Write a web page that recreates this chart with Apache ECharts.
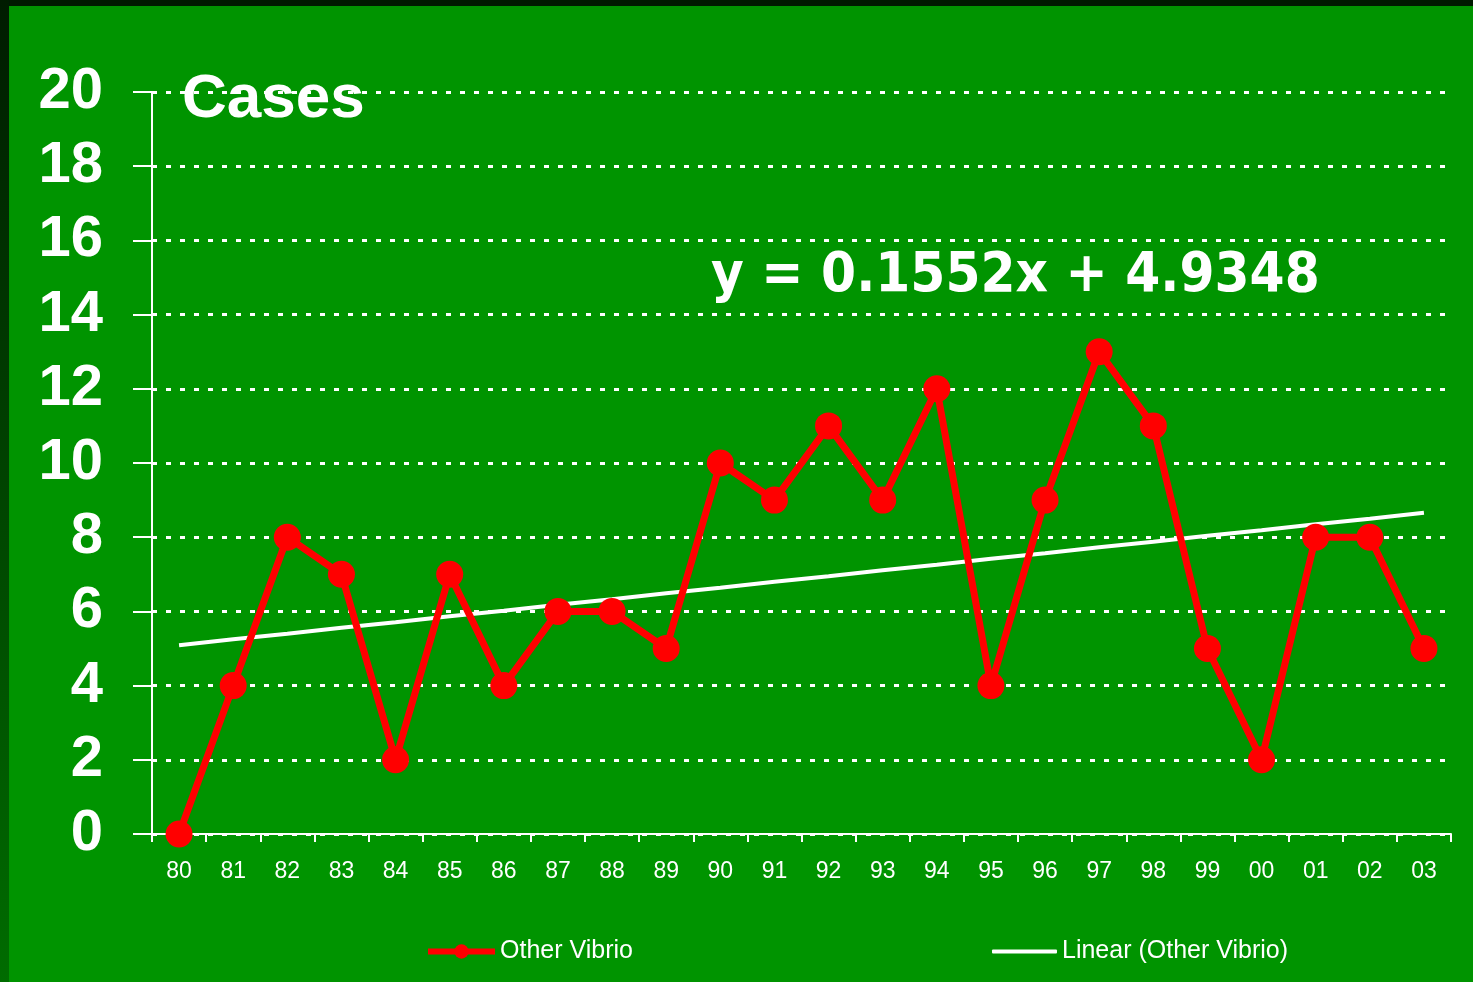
<!DOCTYPE html>
<html>
<head>
<meta charset="utf-8">
<script src="https://cdn.jsdelivr.net/npm/echarts@6/dist/echarts.min.js"></script>
<style>
html,body{margin:0;padding:0;background:#009400;}
#chart{width:1473px;height:982px;}
</style>
</head>
<body>
<div id="chart"></div>
<script>
// ---- data ----
var years = ['80','81','82','83','84','85','86','87','88','89','90','91','92','93','94','95','96','97','98','99','00','01','02','03'];
var otherVibrio = [0,4,8,7,2,7,4,6,6,5,10,9,11,9,12,4,9,13,11,5,2,8,8,5];
// linear trend values read per year (y = 0.1552x + 4.9348)
var linearTrend = [5.09,5.25,5.40,5.56,5.71,5.87,6.02,6.18,6.33,6.49,6.64,6.80,6.95,7.11,7.26,7.42,7.57,7.73,7.88,8.04,8.19,8.35,8.50,8.66];
var titleText = 'Cases';
var equationText = 'y = 0.1552x + 4.9348';
var seriesNames = ['Other Vibrio', 'Linear (Other Vibrio)'];

var chart = echarts.init(document.getElementById('chart'), null, {renderer: 'canvas'});
var option = {
  backgroundColor: '#009400',
  animation: false,
  grid: {left: 152, right: 22, top: 92, bottom: 148, containLabel: false},
  graphic: [
    {type: 'rect', left: 0, top: 0, shape: {width: 1473, height: 6}, style: {fill: '#001a00'}, z: 100},
    {type: 'rect', left: 0, top: 0, shape: {width: 9, height: 982},
     style: {fill: new echarts.graphic.LinearGradient(0, 0, 0, 1, [{offset: 0, color: '#001c00'}, {offset: 1, color: '#006c00'}])}, z: 100},
    {type: 'text', x: 182, y: 100, z: 50,
     style: {text: titleText, fill: '#ffffff', font: 'bold 62px "Liberation Sans", Arial, sans-serif', textAlign: 'left', verticalAlign: 'middle'}},
    {type: 'text', x: 711, y: 276, z: 50,
     style: {text: equationText, fill: '#ffffff', font: 'bold 56px "DejaVu Sans Condensed", "DejaVu Sans", sans-serif', textAlign: 'left', verticalAlign: 'middle'}}
  ],
  legend: [
    {data: [seriesNames[0]], left: 425, top: 939, padding: 0, itemWidth: 67, itemHeight: 18, itemGap: 0,
     lineStyle: {width: 6},
     textStyle: {color: '#ffffff', fontSize: 25, fontFamily: '"Liberation Sans", Arial, sans-serif'}},
    {data: [{name: seriesNames[1], icon: 'roundRect'}], left: 992, top: 939, padding: 0, itemWidth: 65, itemHeight: 4, itemGap: 0,
     textStyle: {color: '#ffffff', fontSize: 25, fontFamily: '"Liberation Sans", Arial, sans-serif'}}
  ],
  xAxis: {
    type: 'category',
    data: years,
    boundaryGap: true,
    axisLine: {lineStyle: {color: '#ffffff', width: 2}},
    axisTick: {show: true, length: 8, lineStyle: {color: '#ffffff', width: 2}},
    axisLabel: {color: '#ffffff', fontSize: 23, fontFamily: '"Liberation Sans", Arial, sans-serif', margin: 26},
    splitLine: {show: false}
  },
  yAxis: {
    type: 'value',
    min: 0, max: 20, interval: 2,
    axisLine: {show: true, lineStyle: {color: '#ffffff', width: 2}},
    axisTick: {show: true, length: 19, lineStyle: {color: '#ffffff', width: 2}},
    axisLabel: {color: '#ffffff', fontSize: 58, fontWeight: 'bold', fontFamily: '"Liberation Sans", Arial, sans-serif', margin: 49},
    splitLine: {show: true, lineStyle: {color: '#ffffff', width: 3, type: [5, 9]}}
  },
  series: [
    {
      name: seriesNames[0], type: 'line', data: otherVibrio, z: 5,
      symbol: 'circle', symbolSize: 27, showSymbol: true,
      lineStyle: {color: '#ff0000', width: 7},
      itemStyle: {color: '#ff0000'}
    },
    {
      name: seriesNames[1], type: 'line', data: linearTrend, z: 4,
      symbol: 'none', showSymbol: false,
      lineStyle: {color: '#ffffff', width: 4},
      itemStyle: {color: '#ffffff'}
    }
  ]
};
chart.setOption(option);
</script>
</body>
</html>
